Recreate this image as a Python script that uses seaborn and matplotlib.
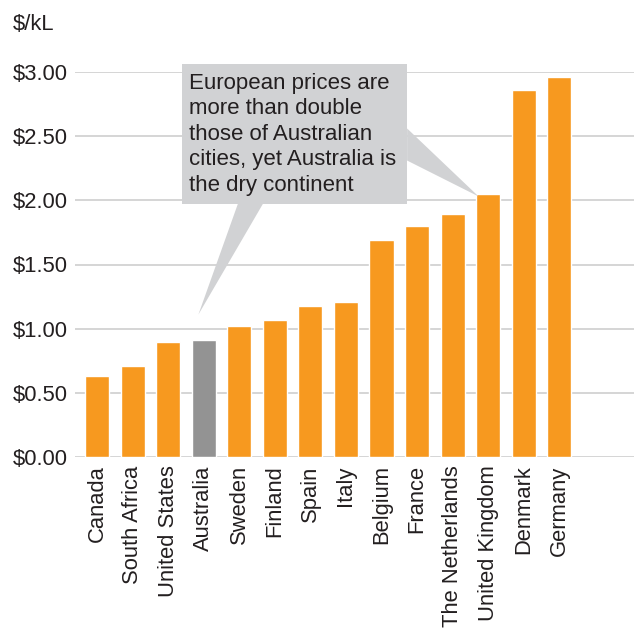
import matplotlib
matplotlib.use("Agg")
import matplotlib.pyplot as plt
import seaborn as sns
import pandas as pd
from matplotlib.patches import Polygon, Rectangle

countries = ["Canada", "South Africa", "United States", "Australia", "Sweden",
             "Finland", "Spain", "Italy", "Belgium", "France", "The Netherlands",
             "United Kingdom", "Denmark", "Germany"]
prices = [0.63, 0.71, 0.90, 0.91, 1.02, 1.07, 1.18, 1.21, 1.69, 1.80, 1.89,
          2.05, 2.86, 2.96]
yticks = [0.0, 0.5, 1.0, 1.5, 2.0, 2.5, 3.0]
ytick_labels = ["$0.00", "$0.50", "$1.00", "$1.50", "$2.00", "$2.50", "$3.00"]
unit_label = "$/kL"
callout = "European prices are\nmore than double\nthose of Australian\ncities, yet Australia is\nthe dry continent"

ORANGE = "#F7991F"
GREY = "#939393"
BOX = "#D1D2D4"
TEXT = "#231F20"

sns.set_theme(style="white")
plt.rcParams["font.family"] = ["Liberation Sans", "DejaVu Sans"]

df = pd.DataFrame({"country": countries, "price": prices})
palette = {c: (GREY if c == "Australia" else ORANGE) for c in countries}

fig = plt.figure(figsize=(6.34, 6.30), dpi=100)
ax = fig.add_axes([75 / 634, 1 - 457 / 630, 1 - 75 / 634, (457 - 72) / 630])

sns.barplot(data=df, x="country", y="price", hue="country", palette=palette,
            order=countries, hue_order=countries, legend=False, width=0.68,
            saturation=1, ax=ax, zorder=3)

ax.set_ylim(0, 3.0)
ax.set_xlim(-0.62, 15.1)
ax.set_yticks(yticks)
ax.set_yticklabels(ytick_labels, fontsize=15.8, color=TEXT)
ax.set_xticks(range(len(countries)))
ax.set_xticklabels(countries, rotation=90, fontsize=15.8, color=TEXT)
ax.tick_params(axis="y", length=0, pad=5)
ax.tick_params(axis="x", length=0, pad=6)
ax.set_xlabel("")
ax.set_ylabel("")
ax.grid(axis="y", color="#D5D5D5", linewidth=1.4, zorder=0)
ax.grid(axis="x", visible=False)
for s in ax.spines.values():
    s.set_visible(False)

fig.text(13 / 634, 1 - 25 / 630, unit_label, fontsize=15.8, color=TEXT,
         ha="left", va="center")

# callout box with two pointers (data coordinates)
bx0, bx1, by0, by1 = 2.39, 8.73, 1.97, 3.06
ax.add_patch(Rectangle((bx0, by0), bx1 - bx0, by1 - by0, facecolor=BOX,
                       edgecolor="none", zorder=5, clip_on=False))
ax.add_patch(Polygon([(3.97, by0 + 0.01), (4.68, by0 + 0.01), (2.85, 1.11)],
                     closed=True, facecolor=BOX, edgecolor="none", zorder=5,
                     clip_on=False))
ax.add_patch(Polygon([(bx1 - 0.01, 2.56), (bx1 - 0.01, 2.31), (10.73, 2.03)],
                     closed=True, facecolor=BOX, edgecolor="none", zorder=5,
                     clip_on=False))
ax.text(2.59, 2.995, callout, fontsize=16, color=TEXT,
        ha="left", va="top", linespacing=1.28, zorder=6)

fig.savefig("out.png", dpi=100)
